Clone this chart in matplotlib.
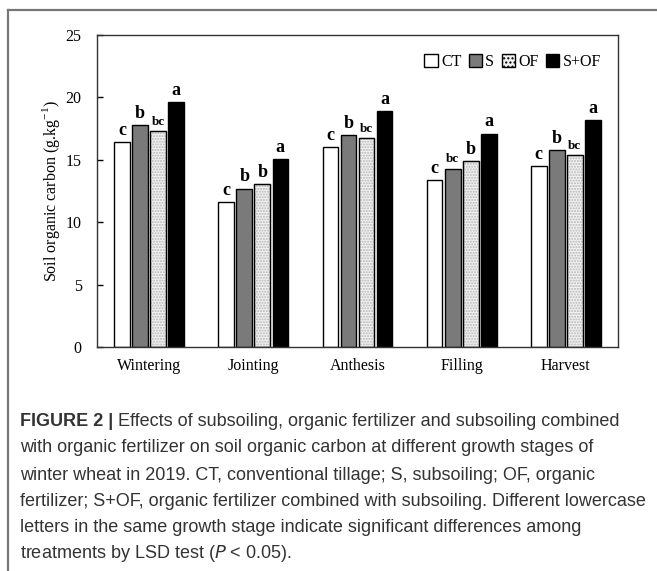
import matplotlib
matplotlib.use("Agg")
import matplotlib.pyplot as plt
import numpy as np
from matplotlib.patches import Rectangle

stages = ["Wintering", "Jointing", "Anthesis", "Filling", "Harvest"]
treatments = ["CT", "S", "OF", "S+OF"]
ct = [16.4, 11.6, 16.0, 13.4, 14.5]
s = [17.8, 12.7, 17.0, 14.3, 15.8]
of = [17.3, 13.05, 16.75, 14.9, 15.4]
sof = [19.6, 15.05, 18.9, 17.1, 18.2]
letters_ct = ["c", "c", "c", "c", "c"]
letters_s = ["b", "b", "b", "bc", "b"]
letters_of = ["bc", "b", "bc", "b", "bc"]
letters_sof = ["a", "a", "a", "a", "a"]

SERIF = "Liberation Serif"
faces = ["white", "#7a7a7a", "#f2f2f2", "black"]

fig = plt.figure(figsize=(6.57, 5.71), dpi=100)
ax = fig.add_axes([97 / 657, 1 - 347 / 571, 521 / 657, 312 / 571])

x = np.arange(len(stages))
w = 0.15
step = 0.173
series = [ct, s, of, sof]
letters = [letters_ct, letters_s, letters_of, letters_sof]
for i, (vals, fc, labs) in enumerate(zip(series, faces, letters)):
    pos = x + (i - 1.5) * step
    bars = ax.bar(pos, vals, width=w, facecolor=fc,
                  edgecolor="black", linewidth=1.0, label=treatments[i])
    if i == 2:
        # fine dotted fill, black outline on top
        for b in bars:
            b.set_hatch("......")
            b.set_edgecolor("#b5b5b5")
            ax.add_patch(Rectangle(b.get_xy(), b.get_width(), b.get_height(),
                                   fill=False, edgecolor="black", lw=1.0))
    for p, v, lab in zip(pos, vals, labs):
        ax.text(p, v + 0.25, lab, ha="center", va="bottom", family=SERIF,
                fontweight="bold", fontsize=9.5 if len(lab) > 1 else 13)

ax.set_xlim(-0.5, 4.5)
ax.set_ylim(0, 25)
ax.set_yticks([0, 5, 10, 15, 20, 25])
ax.set_xticks(x)
ax.set_xticklabels(stages, family=SERIF, fontsize=11.5)
for t in ax.get_yticklabels():
    t.set_family(SERIF)
    t.set_fontsize(11.5)
ax.tick_params(axis="y", direction="in", length=4, width=1, pad=11)
ax.tick_params(axis="x", length=0, pad=8)
for sp in ax.spines.values():
    sp.set_color("#333333")
    sp.set_linewidth(1.0)
ax.set_ylabel("Soil organic carbon (g.kg$^{\\mathregular{-1}}$)", family=SERIF,
              fontsize=11.5, labelpad=3)

handles = [Rectangle((0, 0), 1, 1, facecolor=fc, edgecolor="black", lw=1.0)
           for fc in faces]
handles[2].set_hatch("....")
ax.legend(handles, treatments, ncol=4, loc="upper right",
          bbox_to_anchor=(0.995, 0.985), frameon=False,
          prop={"family": SERIF, "size": 11.5}, handlelength=0.85,
          handleheight=0.85, handletextpad=0.2, columnspacing=0.45)

# outer frame
fig.add_artist(plt.Line2D([8 / 657, 8 / 657], [0, 1 - 9.5 / 571],
                          color="#777777", lw=1.6, transform=fig.transFigure))
fig.add_artist(plt.Line2D([8 / 657, 1], [1 - 9.5 / 571, 1 - 9.5 / 571],
                          color="#777777", lw=1.6, transform=fig.transFigure))

# caption
CAP = "Liberation Sans"
caption = [
    " Effects of subsoiling, organic fertilizer and subsoiling combined",
    "with organic fertilizer on soil organic carbon at different growth stages of",
    "winter wheat in 2019. CT, conventional tillage; S, subsoiling; OF, organic",
    "fertilizer; S+OF, organic fertilizer combined with subsoiling. Different lowercase",
    "letters in the same growth stage indicate significant differences among",
    "treatments by LSD test ($P$ < 0.05).",
]
cap_y = [421, 448, 475, 501, 528, 554]
head = fig.text(20 / 657, 1 - cap_y[0] / 571, "FIGURE 2 |", ha="left", va="center",
                family=CAP, fontweight="bold", fontsize=13, color="#333333")
fig.canvas.draw()
bb = head.get_window_extent()
for k, (txt, yy) in enumerate(zip(caption, cap_y)):
    x0 = bb.x1 / fig.bbox.width if k == 0 else 20 / 657
    fig.text(x0, 1 - yy / 571, txt, ha="left", va="center", family=CAP,
             fontsize=13, color="#333333")

fig.savefig("out.png", dpi=100)
